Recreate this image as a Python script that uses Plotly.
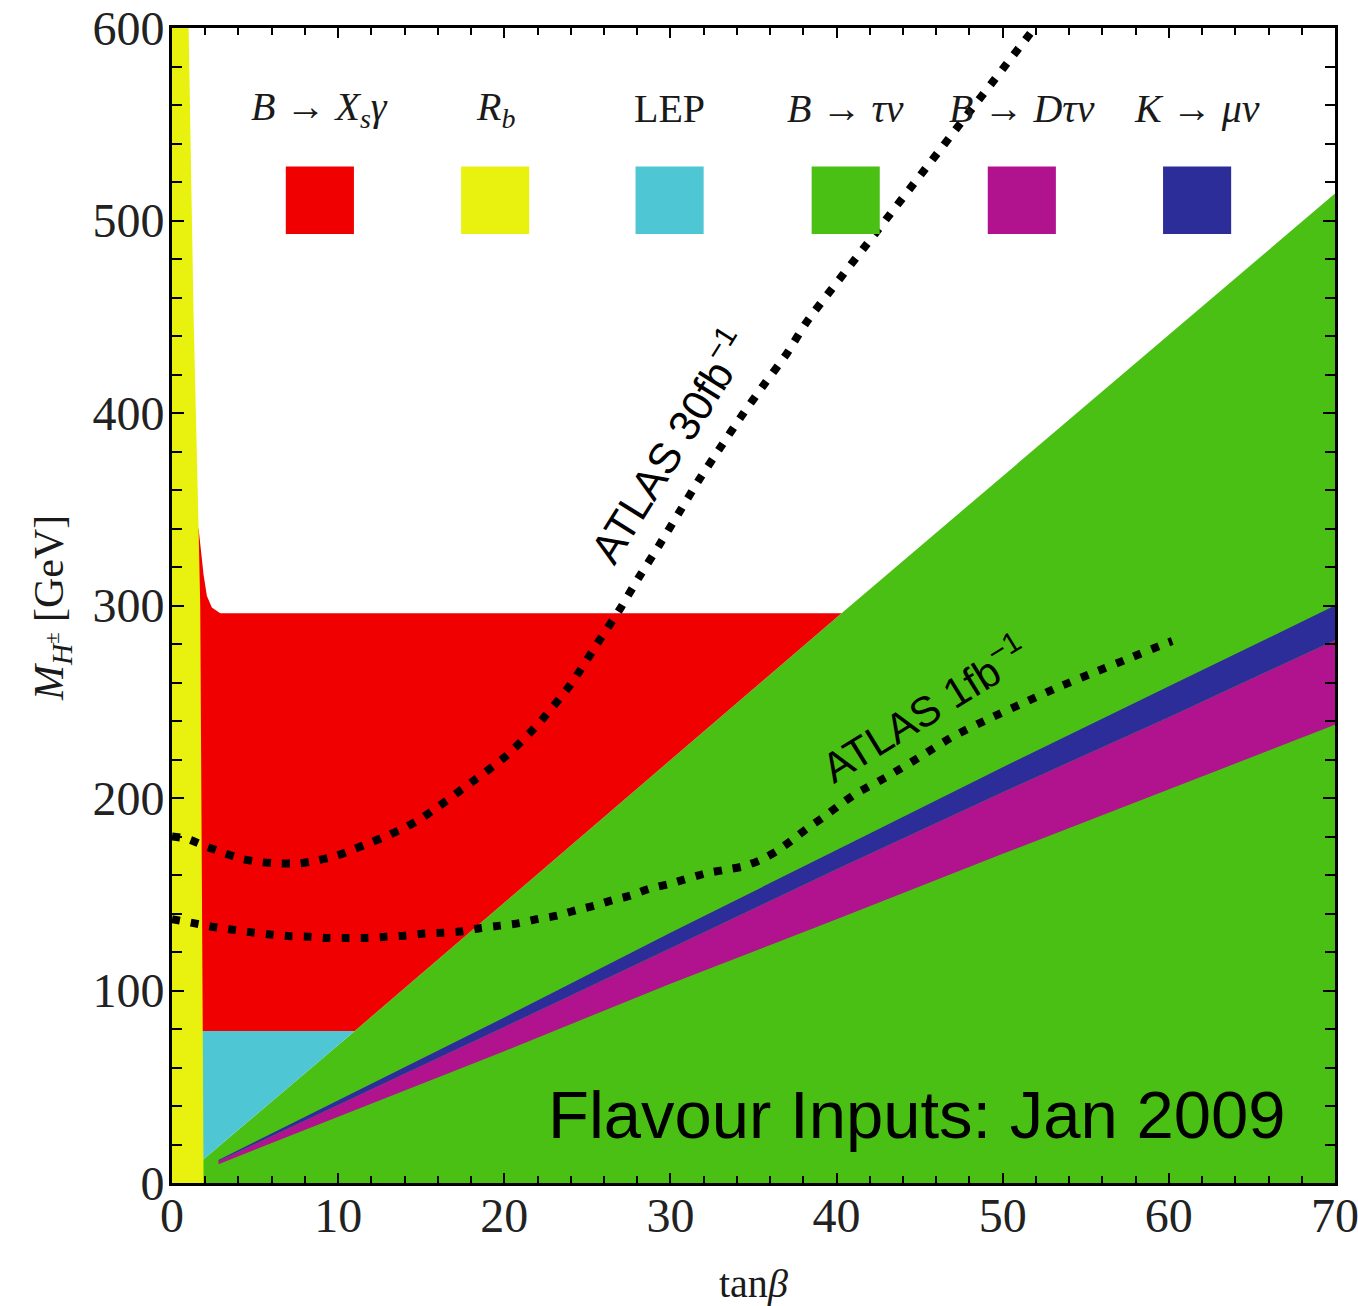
import plotly.graph_objects as go

# ---------------- data ----------------
x_tick_vals = [0, 10, 20, 30, 40, 50, 60, 70]
y_tick_vals = [0, 100, 200, 300, 400, 500, 600]

# R_b (yellow) excluded region: boundary tanβ as a function of M_H
rb_M = [0, 80, 200, 300, 340, 450, 600]
rb_tanb = [1.9, 1.85, 1.78, 1.7, 1.6, 1.3, 1.0]

# B -> tau nu (green) upper boundary of excluded region
btn_tanb = [1.85, 11, 40.3, 70]
btn_M = [12, 79, 296, 514]

# B -> Xs gamma (red) limit, with its rise near small tanβ
bsg_limit = 296
bsg_edge_tanb = [2.9, 2.4, 2.1, 1.9, 1.75, 1.6]
bsg_edge_M = [296, 299, 305, 316, 328, 340]

# LEP direct limit (cyan)
lep_limit = 79

# B -> D tau nu (magenta) and K -> mu nu (blue) bands
band_tanb = [2.8, 10, 20, 30, 40, 50, 60, 70]
kmn_upper_M = [12, 43, 86, 130, 173, 216, 258, 300]
bdtn_upper_M = [11.4, 40.5, 81, 122, 163, 203, 242, 282]
bdtn_lower_M = [9.8, 34.2, 68.5, 103.5, 137, 171, 204.5, 238]

# ATLAS 30 fb^-1 reach
atlas30_tanb = [0, 0.9, 2.0, 3.1, 4.2, 5.3, 6.4, 7.6, 8.7, 9.9, 11.0, 12.0, 13.1,
                14.1, 15.1, 16.1, 18, 20, 22, 24, 25.7, 26.9, 28.1, 29.3, 30.5,
                31.7, 33.0, 34.3, 35.6, 37.0, 38.2, 42.3, 52.0]
atlas30_M = [180, 178.8, 175, 171.5, 168.4, 166.7, 166, 166, 167.5, 170, 173.6, 177,
             181, 185, 190, 196, 208, 221, 238, 259, 281.6, 297.3, 314.6, 331, 348,
             365, 382, 398.7, 414.4, 430.8, 447.3, 493, 601]

# ATLAS 1 fb^-1 reach
atlas1_tanb = [0, 1.3, 2.5, 3.65, 4.8, 6.0, 7.1, 8.3, 9.4, 10.55, 11.7, 12.9, 14.0,
               15.2, 16.3, 17.5, 18.6, 19.75, 20.9, 22.05, 23.2, 24.3, 25.4, 26.5,
               27.6, 28.7, 30.0, 32.1, 33.15, 34.4, 35.4, 36.4, 37.3, 38.2, 39.2,
               40.1, 41.1, 43.1, 45.1, 47.0, 49.1, 51.2, 53.3, 55.5, 57.6, 59.7, 60.2]
atlas1_M = [137, 135, 133, 131.6, 130.2, 129, 128.2, 127.9, 127.3, 127.3, 127.3,
            127.9, 128.5, 129.6, 130, 130.8, 132.5, 133.7, 135, 137.2, 138.9, 141.7,
            144, 146.9, 149.3, 152.8, 155.5, 160.8, 162.5, 164.5, 167.7, 172.4, 178,
            184, 190, 195.8, 201.9, 211.4, 221.8, 231.9, 240.9, 249.2, 257.4, 265.2,
            272.5, 279.9, 281.5]

legend_labels = ["<i>B</i> → <i>X<sub>s</sub>γ</i>", "<i>R<sub>b</sub></i>", "LEP",
                 "<i>B</i> → <i>τν</i>", "<i>B</i> → <i>Dτν</i>", "<i>K</i> → <i>μν</i>"]

# ---------------- styles ----------------
RED = "#F00000"
YELLOW = "#E8F20E"
CYAN = "#4EC6D4"
GREEN = "#4BC014"
MAGENTA = "#B1138F"
BLUE = "#2D2D9A"
legend_colors = [RED, YELLOW, CYAN, GREEN, MAGENTA, BLUE]
legend_pos = [8.9, 19.45, 29.95, 40.55, 51.15, 61.7]

fig = go.Figure()


def poly(xs, ys, color):
    fig.add_trace(go.Scatter(x=xs, y=ys, mode="lines", fill="toself",
                             fillcolor=color, line=dict(width=0, color=color),
                             hoverinfo="skip", showlegend=False))


# green B->tau nu excluded region
poly([0, 0] + btn_tanb + [btn_tanb[-1]],
     [0, btn_M[0]] + btn_M + [0], GREEN)

# cyan LEP region (above green line, below LEP limit)
poly([0, btn_tanb[1], btn_tanb[0], 0],
     [lep_limit, lep_limit, btn_M[0], btn_M[0]], CYAN)

# red B->Xs gamma region
poly([0, btn_tanb[1], btn_tanb[2]] + bsg_edge_tanb + [0],
     [lep_limit, lep_limit, bsg_limit] + bsg_edge_M + [bsg_edge_M[-1]], RED)

# magenta B->D tau nu band
poly(band_tanb + band_tanb[::-1], bdtn_lower_M + bdtn_upper_M[::-1], MAGENTA)
# blue K->mu nu band
poly(band_tanb + band_tanb[::-1], bdtn_upper_M + kmn_upper_M[::-1], BLUE)

# yellow R_b region
poly([0] + rb_tanb + [0], [0] + rb_M + [600], YELLOW)

# ATLAS reach curves
for xs, ys in [(atlas30_tanb, atlas30_M), (atlas1_tanb, atlas1_M)]:
    fig.add_trace(go.Scatter(x=xs, y=ys, mode="lines",
                             line=dict(color="black", width=8, dash="8px,11px",
                                       shape="spline", smoothing=0.6),
                             hoverinfo="skip", showlegend=False))

# legend swatches and labels
half_w = 2.05
for lab, col, xp in zip(legend_labels, legend_colors, legend_pos):
    fig.add_shape(type="rect", xref="x", yref="y", x0=xp - half_w, x1=xp + half_w,
                  y0=493, y1=528, fillcolor=col, line=dict(width=0), layer="above")
    fig.add_annotation(x=xp, y=558, xref="x", yref="y", text=lab, showarrow=False,
                       font=dict(family="Liberation Serif", size=40, color="#1a1a1a"),
                       xanchor="center", yanchor="middle")

fig.add_annotation(x=29.86, y=383, xref="x", yref="y", text="ATLAS 30fb<sup>−1</sup>",
                   showarrow=False, textangle=-58,
                   font=dict(family="Liberation Sans", size=43, color="black"))
fig.add_annotation(x=45.27, y=247, xref="x", yref="y", text="ATLAS 1fb<sup>−1</sup>",
                   showarrow=False, textangle=-31.6,
                   font=dict(family="Liberation Sans", size=42, color="black"))
fig.add_annotation(x=44.8, y=35.4, xref="x", yref="y", text="Flavour Inputs: Jan 2009",
                   showarrow=False,
                   font=dict(family="Liberation Sans", size=67, color="black"))

# axis titles
fig.add_annotation(x=0.5, y=-0.0866, xref="paper", yref="paper", text="tan<i>β</i>",
                   showarrow=False, xanchor="center", yanchor="middle",
                   font=dict(family="Liberation Serif", size=40, color="#1a1a1a"))
fig.add_annotation(x=-0.1032, y=0.4978, xref="paper", yref="paper",
                   text="<i>M</i><sub><i>H</i><sup>±</sup></sub> [GeV]",
                   showarrow=False, textangle=-90, xanchor="center", yanchor="middle",
                   font=dict(family="Liberation Serif", size=42, color="#1a1a1a"))

axis_common = dict(showline=True, linecolor="black", linewidth=3, mirror="ticks",
                   ticks="inside", tickcolor="black", tickwidth=2,
                   showgrid=False, zeroline=False, automargin=False,
                   ticklabeloverflow="allow",
                   tickfont=dict(family="Liberation Serif", size=48, color="#222"))

fig.update_xaxes(range=[0, 70], tickvals=x_tick_vals, ticklen=10,
                 ticklabelstandoff=-12,
                 minor=dict(ticks="inside", dtick=2, ticklen=7, tickwidth=2,
                            tickcolor="black", showgrid=False),
                 **axis_common)
fig.update_yaxes(range=[0, 600], tickvals=y_tick_vals, ticklen=12,
                 ticklabelstandoff=-5,
                 minor=dict(ticks="inside", dtick=20, ticklen=10, tickwidth=2,
                            tickcolor="black", showgrid=False),
                 **axis_common)

fig.update_layout(width=1358, height=1306,
                  margin=dict(l=172, r=23, t=28, b=123, pad=0, autoexpand=False),
                  paper_bgcolor="white", plot_bgcolor="white",
                  showlegend=False)

fig.write_html("out.html", config={"displayModeBar": False},
               post_script="document.body.style.margin='0';")
